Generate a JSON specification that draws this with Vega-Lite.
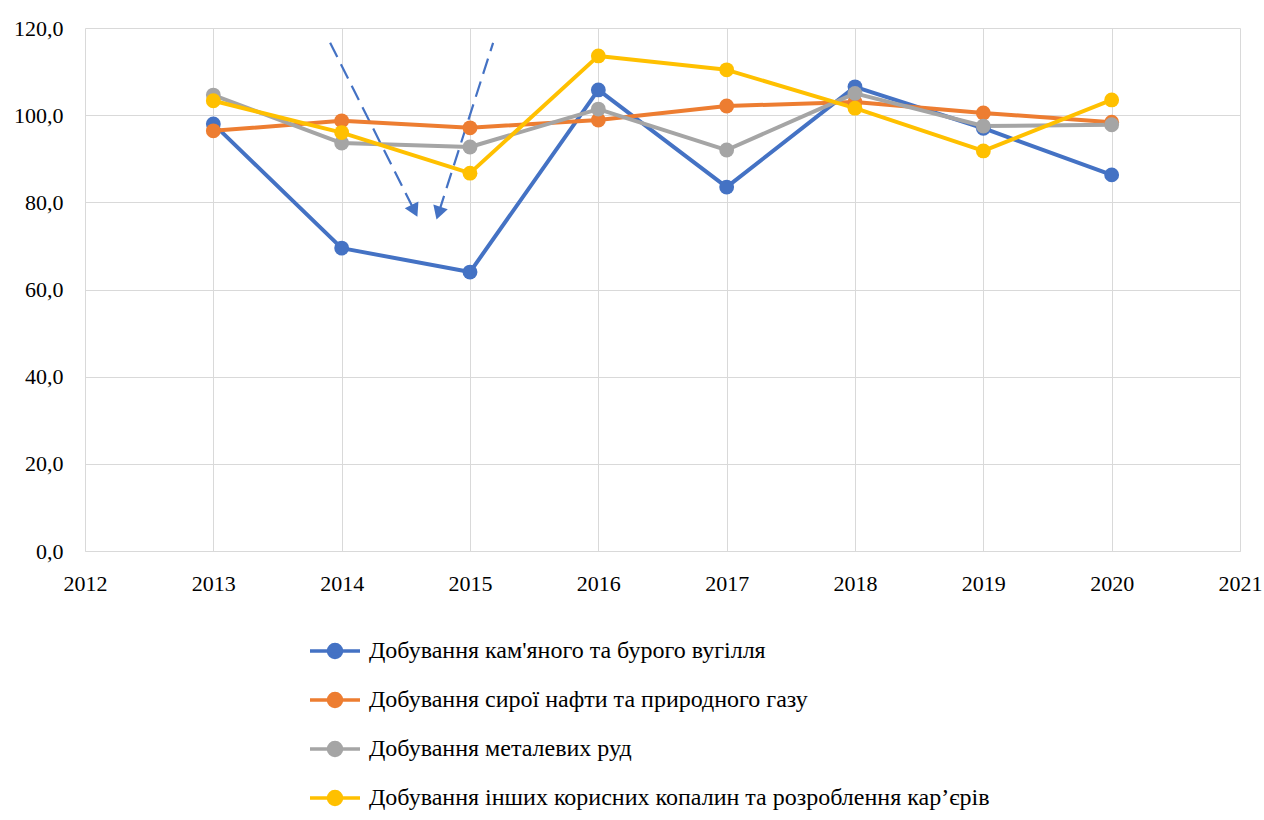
{
  "$schema": "https://vega.github.io/schema/vega-lite/v6.json",
  "width": 1155,
  "height": 523,
  "autosize": {"type": "none"},
  "padding": {"left": 85, "top": 28, "right": 24, "bottom": 269},
  "background": "white",
  "config": {
    "view": {"stroke": null},
    "font": "Liberation Serif",
    "axis": {"gridColor": "#d9d9d9", "domainColor": "#d9d9d9", "ticks": false, "labelFont": "Liberation Serif", "labelFontSize": 22, "labelColor": "#000000", "labelFlush": false}
  },
  "datasets": {
    "series": [
      {"year": 2013, "series": "Добування кам'яного та бурого вугілля", "value": 98.0},
      {"year": 2014, "series": "Добування кам'яного та бурого вугілля", "value": 69.5},
      {"year": 2015, "series": "Добування кам'яного та бурого вугілля", "value": 64.0},
      {"year": 2016, "series": "Добування кам'яного та бурого вугілля", "value": 105.8},
      {"year": 2017, "series": "Добування кам'яного та бурого вугілля", "value": 83.5},
      {"year": 2018, "series": "Добування кам'яного та бурого вугілля", "value": 106.5},
      {"year": 2019, "series": "Добування кам'яного та бурого вугілля", "value": 97.0},
      {"year": 2020, "series": "Добування кам'яного та бурого вугілля", "value": 86.3},
      {"year": 2013, "series": "Добування сирої нафти та природного газу", "value": 96.4},
      {"year": 2014, "series": "Добування сирої нафти та природного газу", "value": 98.7},
      {"year": 2015, "series": "Добування сирої нафти та природного газу", "value": 97.1},
      {"year": 2016, "series": "Добування сирої нафти та природного газу", "value": 98.9},
      {"year": 2017, "series": "Добування сирої нафти та природного газу", "value": 102.1},
      {"year": 2018, "series": "Добування сирої нафти та природного газу", "value": 103.0},
      {"year": 2019, "series": "Добування сирої нафти та природного газу", "value": 100.5},
      {"year": 2020, "series": "Добування сирої нафти та природного газу", "value": 98.4},
      {"year": 2013, "series": "Добування металевих руд", "value": 104.6},
      {"year": 2014, "series": "Добування металевих руд", "value": 93.6},
      {"year": 2015, "series": "Добування металевих руд", "value": 92.7},
      {"year": 2016, "series": "Добування металевих руд", "value": 101.4},
      {"year": 2017, "series": "Добування металевих руд", "value": 92.0},
      {"year": 2018, "series": "Добування металевих руд", "value": 105.0},
      {"year": 2019, "series": "Добування металевих руд", "value": 97.5},
      {"year": 2020, "series": "Добування металевих руд", "value": 97.8},
      {"year": 2013, "series": "Добування інших корисних копалин та розроблення кар’єрів", "value": 103.3},
      {"year": 2014, "series": "Добування інших корисних копалин та розроблення кар’єрів", "value": 96.0},
      {"year": 2015, "series": "Добування інших корисних копалин та розроблення кар’єрів", "value": 86.7},
      {"year": 2016, "series": "Добування інших корисних копалин та розроблення кар’єрів", "value": 113.6},
      {"year": 2017, "series": "Добування інших корисних копалин та розроблення кар’єрів", "value": 110.4},
      {"year": 2018, "series": "Добування інших корисних копалин та розроблення кар’єрів", "value": 101.6},
      {"year": 2019, "series": "Добування інших корисних копалин та розроблення кар’єрів", "value": 91.8},
      {"year": 2020, "series": "Добування інших корисних копалин та розроблення кар’єрів", "value": 103.5}
    ],
    "arrows": [
      {"arrow": 1, "pt": "start", "year": 2013.91, "value": 116.6},
      {"arrow": 1, "pt": "end", "year": 2014.56, "value": 78.5},
      {"arrow": 2, "pt": "start", "year": 2015.18, "value": 116.6},
      {"arrow": 2, "pt": "end", "year": 2014.76, "value": 78.0}
    ]
  },
  "layer": [
    {
      "data": {"name": "arrows"},
      "mark": {"type": "line", "color": "#4472C4", "strokeWidth": 2.2, "strokeDash": [16, 8]},
      "encoding": {
        "x": {"field": "year", "type": "quantitative"},
        "y": {"field": "value", "type": "quantitative"},
        "detail": {"field": "arrow"}
      }
    },
    {
      "data": {"name": "arrows"},
      "transform": [{"filter": "datum.pt == 'end' && datum.arrow == 1"}],
      "mark": {"type": "point", "shape": "triangle", "filled": true, "color": "#4472C4", "size": 230, "angle": 154, "opacity": 1},
      "encoding": {
        "x": {"field": "year", "type": "quantitative"},
        "y": {"field": "value", "type": "quantitative"}
      }
    },
    {
      "data": {"name": "arrows"},
      "transform": [{"filter": "datum.pt == 'end' && datum.arrow == 2"}],
      "mark": {"type": "point", "shape": "triangle", "filled": true, "color": "#4472C4", "size": 230, "angle": 198, "opacity": 1},
      "encoding": {
        "x": {"field": "year", "type": "quantitative"},
        "y": {"field": "value", "type": "quantitative"}
      }
    },
    {
      "data": {"name": "series"},
      "mark": {"type": "line", "strokeWidth": 4, "strokeCap": "round", "strokeJoin": "round"},
      "encoding": {
        "x": {"field": "year", "type": "quantitative", "scale": {"domain": [2012, 2021], "nice": false, "zero": false},
          "axis": {"title": null, "values": [2012, 2013, 2014, 2015, 2016, 2017, 2018, 2019, 2020, 2021], "format": "d", "grid": true, "labelPadding": 22}},
        "y": {"field": "value", "type": "quantitative", "scale": {"domain": [0, 120], "nice": false},
          "axis": {"title": null, "values": [0, 20, 40, 60, 80, 100, 120], "labelExpr": "replace(format(datum.value, '.1f'), '.', ',')", "labelPadding": 22, "domain": false}},
        "color": {"field": "series", "type": "nominal",
          "scale": {"domain": ["Добування кам'яного та бурого вугілля", "Добування сирої нафти та природного газу", "Добування металевих руд", "Добування інших корисних копалин та розроблення кар’єрів"], "range": ["#4472C4", "#ED7D31", "#A5A5A5", "#FFC000"]},
          "legend": {"title": null, "orient": "none", "legendX": 223, "legendY": 596, "direction": "vertical",
            "symbolType": "M-1,0H1M-0.26,0A0.26,0.26 0 1,1 0.26,0A0.26,0.26 0 1,1 -0.26,0Z", "symbolSize": 2500, "symbolStrokeWidth": 3.5,
            "labelFont": "Liberation Serif", "labelFontSize": 24, "labelColor": "#000000", "labelLimit": 0, "labelOffset": 7, "rowPadding": 8,
            "encode": {"symbols": {"update": {"fill": {"scale": "color", "field": "value"}, "fillOpacity": {"value": 1}, "strokeOpacity": {"value": 1}, "opacity": {"value": 1}}}}}
        }
      }
    },
    {
      "data": {"name": "series"},
      "mark": {"type": "point", "filled": true, "size": 220, "opacity": 1},
      "encoding": {
        "x": {"field": "year", "type": "quantitative"},
        "y": {"field": "value", "type": "quantitative"},
        "color": {"field": "series", "type": "nominal"}
      }
    }
  ]
}
